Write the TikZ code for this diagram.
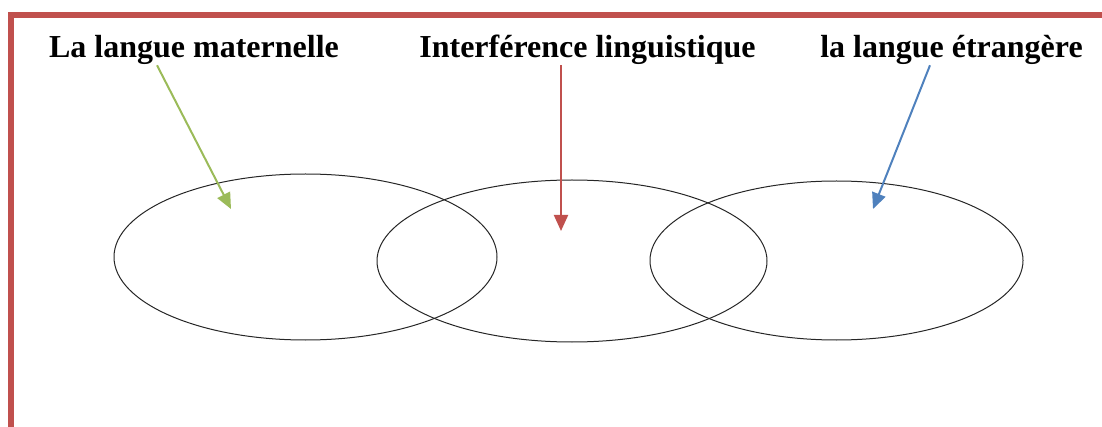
\documentclass[tikz,border=0pt]{standalone}
\usepackage{fontspec}
\setmainfont{Liberation Serif}
\usetikzlibrary{shapes.geometric,arrows.meta}

\definecolor{offred}{RGB}{192,80,77}
\definecolor{offgreen}{RGB}{155,187,89}
\definecolor{offblue}{RGB}{79,129,189}

\begin{document}
\begin{tikzpicture}[
x=1pt, y=-1pt,
every node/.style={
align=center,
inner sep=0pt,
font=\fontsize{32}{38}\selectfont\bfseries
},
arrow/.style={-{Triangle[width=14pt,length=16pt]}, line width=2pt}
]

% =====================================================
% Styles
% =====================================================

\tikzstyle{lang} =
[ellipse,
draw=black!85,
line width=1pt]

\tikzstyle{frame} =
[draw=offred,
line width=6pt]

\useasboundingbox (0,0) rectangle (1102,427);

% =====================================================
% Frame
% =====================================================

\draw [frame] (11,427) -- (11,15) -- (1102,15);

% =====================================================
% Nodes
% =====================================================

\node (maternal) [lang, minimum width=383pt, minimum height=166pt] at (305.5,257) {};

\node (interf) [lang, minimum width=390pt, minimum height=162pt] at (572,261) {};

\node (foreign) [lang, minimum width=373pt, minimum height=159pt] at (836.5,260.5) {};

\node (maternallbl) [anchor=base] at (194,58) {La langue maternelle};

\node (interflbl) [anchor=base] at (587.5,58) {Interférence linguistique};

\node (foreignlbl) [anchor=base] at (951.5,58) {la langue étrangère};

\coordinate (maternaltip) at (231,209);
\coordinate (interftip) at (561,231);
\coordinate (foreigntip) at (873,209);

% =====================================================
% Arrows
% =====================================================

\draw [arrow, offgreen] ([xshift=-37pt]maternallbl.south) -- (maternaltip);

\draw [arrow, offred] ([xshift=-26.5pt]interflbl.south) -- (interftip);

\draw [arrow, offblue] ([xshift=-21.5pt]foreignlbl.south) -- (foreigntip);

\end{tikzpicture}
\end{document}
